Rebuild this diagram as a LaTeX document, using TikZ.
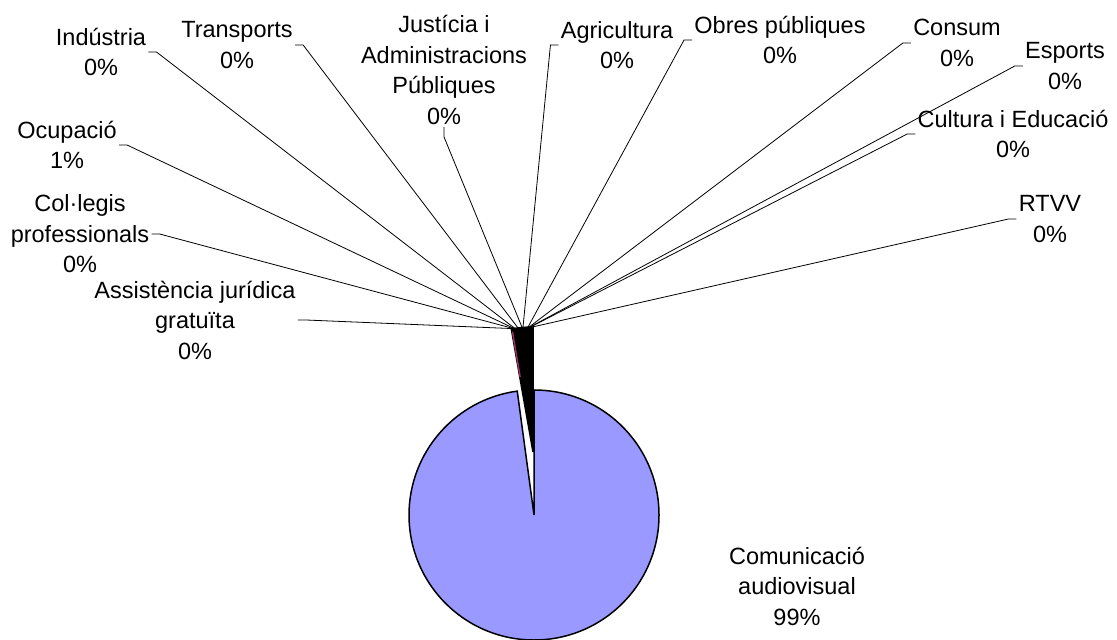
\documentclass[tikz,border=0pt]{standalone}
\usepackage{fontspec}
\setmainfont{Liberation Sans}
\definecolor{pieblue}{HTML}{9999FF}
\definecolor{piered}{HTML}{993366}
\begin{document}
\begin{tikzpicture}[x=0.5pt, y=-0.5pt,
    lbl/.style={align=center, inner sep=1pt, font=\fontsize{11.75}{15.25}\selectfont},
    leader/.style={line width=0.4pt}]
    \useasboundingbox (0,0) rectangle (1117,640);

    % Sector gran (99%)
    \draw[line width=0.75pt, fill=pieblue] (534,515) -- ++(-90:125)
        arc[start angle=-90, end angle=262.3, radius=125] -- cycle;

    % Sectors petits, desplacats cap amunt
    \coordinate (ex) at (533,452);
    \draw[line width=0.75pt, fill=black] (ex) -- ++(260:125)
        arc[start angle=260, end angle=270, radius=125] -- cycle;
    \draw[piered, line width=0.7pt] ([shift={(260.3:122)}]ex) -- ([shift={(260.3:76)}]ex);

    % Punts on acaben les linies guia
    \foreach \n/\a in {ass/260.8, col/261, ocu/261.3, ind/261.6, tra/263.1, jus/265,
                       agr/265.4, obr/267.7, con/268.2, esp/268.6, cul/268.8, rtv/269.7} {
        \coordinate (p\n) at ([shift={(\a:125)}]ex);
    }

    % Etiquetes
    \node[lbl] (ind) at (101,52) {Indústria\\0\%};
    \node[lbl] (tra) at (237,45) {Transports\\0\%};
    \node[lbl] (jus) at (444,70) {Justícia i\\Administracions\\Públiques\\0\%};
    \node[lbl] (ocu) at (67,145) {Ocupació\\1\%};
    \node[lbl] (col) at (80,234) {Col·legis\\professionals\\0\%};
    \node[lbl] (ass) at (195,320) {Assistència jurídica\\gratuïta\\0\%};
    \node[lbl] (agr) at (617,45) {Agricultura\\0\%};
    \node[lbl] (obr) at (780,40) {Obres públiques\\0\%};
    \node[lbl] (con) at (957,43) {Consum\\0\%};
    \node[lbl] (esp) at (1065,66) {Esports\\0\%};
    \node[lbl] (cul) at (1013,134) {Cultura i Educació\\0\%};
    \node[lbl] (rtv) at (1050,219) {RTVV\\0\%};
    \node[lbl] (com) at (797,586) {Comunicació\\audiovisual\\99\%};

    % Linies guia
    \foreach \n in {ind,tra,ocu,col,ass} {
        \draw[leader] (\n.east) -- ++(8,0) -- (p\n);
    }
    \foreach \n in {agr,obr,con,esp,cul,rtv} {
        \draw[leader] (\n.west) -- ++(-8,0) -- (p\n);
    }
    \draw[leader] (jus.south) -- ++(0,10) -- (pjus);
\end{tikzpicture}
\end{document}
